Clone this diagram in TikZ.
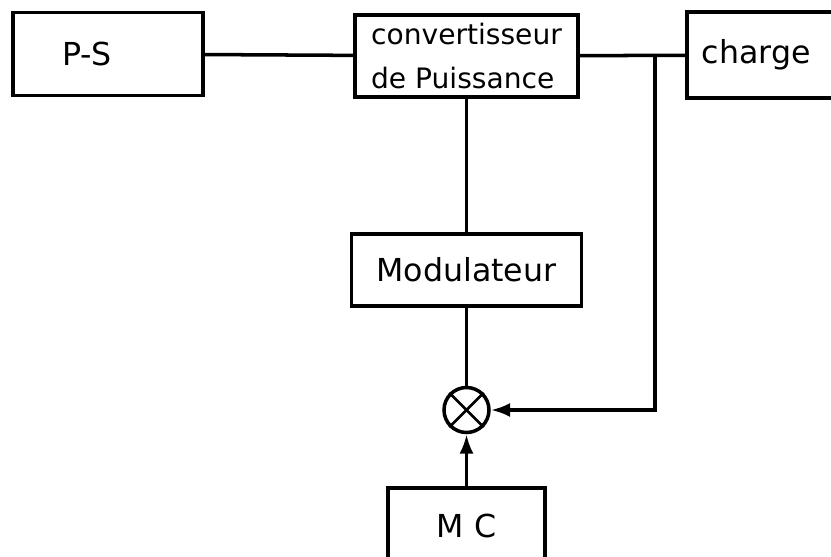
\documentclass[tikz,border=0pt]{standalone}
\usepackage{fontspec}
\setmainfont{DejaVu Sans}
\usepackage{tikz}
\usetikzlibrary{positioning,arrows.meta}

\begin{document}
\begin{tikzpicture}[line width=2pt, bloc/.style={draw, rectangle, minimum height=1.66cm, inner sep=2pt, font=\fontsize{18}{22}\selectfont}, somme/.style={draw, circle, minimum size=0.9cm, inner sep=0pt}, fleche/.style={-{Latex[length=11pt,width=8pt]}}]

	\clip (0,0) rectangle (16.62,-11.14);

	% Blocs
	\node[bloc, minimum width=3.8cm, text width=1.84cm, inner xsep=0.98cm, align=left] (ps) at (2.16,-1.08) {P-S};
	\node[bloc, minimum width=4.46cm, minimum height=1.64cm, align=left, font=\fontsize{16}{25}\selectfont] (conv) at (9.33,-1.12) {convertisseur\\de Puissance};
	\node[bloc, anchor=west, minimum width=3.9cm, minimum height=1.72cm, text width=3.3cm, inner xsep=0.3cm, align=left] (charge) at (13.7,-1.1) {charge};
	\node[bloc, minimum width=4.6cm, minimum height=1.44cm] (mod) at (9.33,-5.4) {Modulateur};
	\node[somme] (som) at (9.33,-8.2) {};
	\node[bloc, minimum width=3.14cm, minimum height=1.5cm] (mc) at (9.33,-10.51) {M C};

	% Croix du comparateur
	\draw[line width=1.6pt] (som.north west) -- (som.south east);
	\draw[line width=1.6pt] (som.north east) -- (som.south west);

	% Liaisons
	\coordinate (br) at (13.1,-1.1);
	\draw (ps) -- (conv);
	\draw (conv) -- (charge);
	\draw (conv.south) -- (mod.north);
	\draw (mod.south) -- (som.north);
	\draw[fleche] (br) |- (som.east);
	\draw[fleche] (mc.north) -- (som.south);

\end{tikzpicture}
\end{document}
